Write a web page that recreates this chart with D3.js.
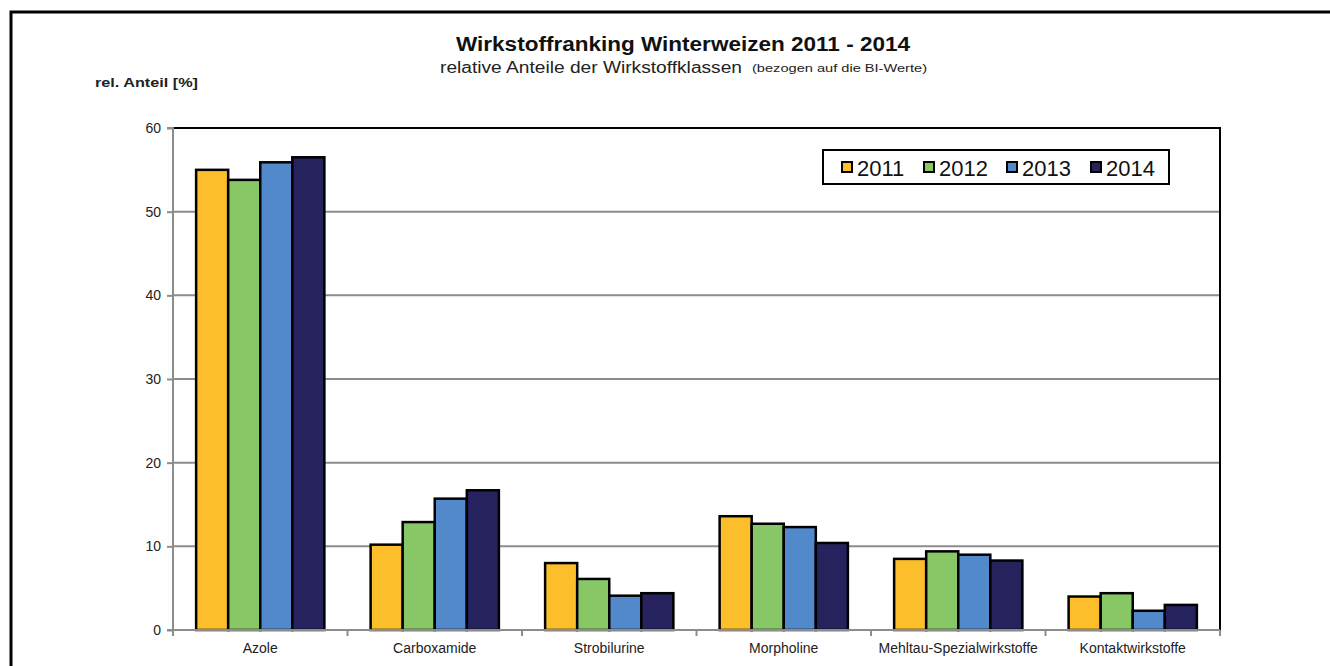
<!DOCTYPE html>
<html><head><meta charset="utf-8">
<script src="https://cdn.jsdelivr.net/npm/d3@7"></script>
<style>body{margin:0;background:#fff;} svg{display:block;font-family:Arial,"Liberation Sans",sans-serif;}</style>
</head><body>
<svg id="c" width="1330" height="666"></svg>
<script>
const categories = ["Azole","Carboxamide","Strobilurine","Morpholine","Mehltau-Spezialwirkstoffe","Kontaktwirkstoffe"];
const years = ["2011","2012","2013","2014"];
const v2011 = [55.0, 10.2, 8.0, 13.6, 8.5, 4.0];
const v2012 = [53.8, 12.9, 6.1, 12.7, 9.4, 4.4];
const v2013 = [55.9, 15.7, 4.1, 12.3, 9.0, 2.3];
const v2014 = [56.5, 16.7, 4.4, 10.4, 8.3, 3.0];
const yTicks = [0,10,20,30,40,50,60];
const colors = ["#FDBE2C","#88C766","#5189CB","#26225E"];

const series = [v2011, v2012, v2013, v2014];
const svg = d3.select("#c");
const L = 173, R = 1220, T = 128, B = 630;

// outer frame
svg.append("path").attr("d", `M11,670 L11,12 L1340,12`).attr("fill","none").attr("stroke","#000").attr("stroke-width",3);

const x0 = d3.scaleBand().domain(categories).range([L,R]).paddingInner(0.265).paddingOuter(0.1325);
const x1 = d3.scaleBand().domain(years).range([0,x0.bandwidth()]);
const y = d3.scaleLinear().domain([0,60]).range([B,T]);

// gridlines
svg.append("g").selectAll("line").data(yTicks.filter(t=>t>0 && t<60)).join("line")
  .attr("x1",L).attr("x2",R).attr("y1",d=>y(d)).attr("y2",d=>y(d))
  .attr("stroke","#8c8c8c").attr("stroke-width",2);

// bars
const g = svg.append("g");
categories.forEach((c,i)=>{
  years.forEach((yr,j)=>{
    g.append("rect")
      .attr("x", x0(c)+x1(yr)).attr("y", y(series[j][i]))
      .attr("width", x1.bandwidth()).attr("height", B - y(series[j][i]))
      .attr("fill", colors[j]).attr("stroke","#000").attr("stroke-width",2.5);
  });
});

// plot border top/right
svg.append("path").attr("d",`M${L},${T} L${R},${T} L${R},${B}`).attr("fill","none").attr("stroke","#000").attr("stroke-width",2);

// y axis
const ya = d3.axisLeft(y).tickValues(yTicks).tickSize(6).tickPadding(6);
const yg = svg.append("g").attr("transform",`translate(${L},0)`).call(ya);
yg.select(".domain").attr("stroke","#8c8c8c").attr("stroke-width",2).attr("d",`M-6,${T}H0V${B}H-6`);
yg.selectAll(".tick line").attr("stroke","#8c8c8c").attr("stroke-width",2);
yg.selectAll(".tick text").attr("font-size",14).attr("fill","#222").attr("font-family","Arial, Liberation Sans, sans-serif");

// x axis
const xg = svg.append("g").attr("transform",`translate(0,${B})`);
xg.append("line").attr("x1",L).attr("x2",R).attr("y1",0).attr("y2",0).attr("stroke","#8c8c8c").attr("stroke-width",2);
const bounds = categories.map(c=>x0(c)-x0.step()*x0.paddingInner()/2).concat([R]);
bounds[0]=L;
xg.selectAll("line.tk").data(bounds).join("line").attr("class","tk")
  .attr("x1",d=>d).attr("x2",d=>d).attr("y1",0).attr("y2",6).attr("stroke","#8c8c8c").attr("stroke-width",2);
xg.selectAll("text").data(categories).join("text")
  .attr("x",d=>x0(d)+x0.bandwidth()/2).attr("y",23)
  .attr("text-anchor","middle").attr("font-size",14).attr("fill","#222").text(d=>d);

// titles
svg.append("text").attr("x",683).attr("y",51).attr("text-anchor","middle")
  .attr("font-size",20).attr("font-weight","bold").attr("fill","#111")
  .attr("textLength",454).attr("lengthAdjust","spacingAndGlyphs")
  .text("Wirkstoffranking Winterweizen 2011 - 2014");
svg.append("text").attr("x",440).attr("y",73).attr("font-size",16).attr("fill","#222")
  .attr("textLength",302).attr("lengthAdjust","spacingAndGlyphs")
  .text("relative Anteile der Wirkstoffklassen");
svg.append("text").attr("x",752).attr("y",72).attr("font-size",11).attr("fill","#222")
  .attr("textLength",175).attr("lengthAdjust","spacingAndGlyphs")
  .text("(bezogen auf die BI-Werte)");
svg.append("text").attr("x",95).attr("y",87).attr("font-size",12).attr("font-weight","bold").attr("fill","#222")
  .attr("textLength",103).attr("lengthAdjust","spacingAndGlyphs")
  .text("rel. Anteil  [%]");

// legend
const lg = svg.append("g");
lg.append("rect").attr("x",823).attr("y",150).attr("width",346).attr("height",34)
  .attr("fill","#fff").attr("stroke","#000").attr("stroke-width",2);
const lx = [842, 924, 1007, 1091];
years.forEach((yr,j)=>{
  lg.append("rect").attr("x",lx[j]).attr("y",162).attr("width",10).attr("height",10)
    .attr("fill",colors[j]).attr("stroke","#000").attr("stroke-width",2);
  lg.append("text").attr("x",lx[j]+15).attr("y",176).attr("font-size",22).attr("fill","#111").text(yr);
});
</script>
</body></html>
